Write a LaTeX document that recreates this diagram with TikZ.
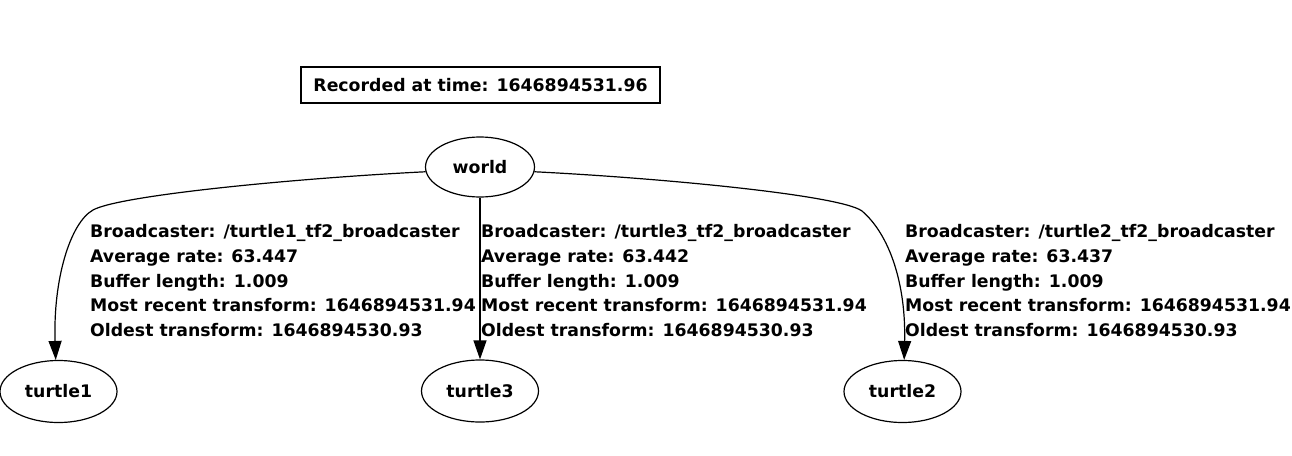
\documentclass[tikz,border=0pt]{standalone}
\usepackage{fontspec}
\setmainfont{DejaVu Sans}
\usetikzlibrary{shapes.geometric,arrows.meta}

\begin{document}
\begin{tikzpicture}[x=1pt, y=-1pt,
        every node/.style={font=\bfseries\fontsize{17.3}{24.7}\selectfont},
        frame/.style={ellipse, draw, line width=1.2pt, minimum width=117pt, minimum height=62pt, inner sep=0pt},
        stamp/.style={rectangle, draw, line width=1.2pt, minimum width=359pt, minimum height=36pt, inner sep=0pt},
        info/.style={anchor=north west, align=left, inner sep=0pt},
        edge/.style={line width=1.2pt, -{Triangle[length=19pt, width=13pt]}}]
        \useasboundingbox (0,0) rectangle (1292,455);

        % Zeitstempel
        \node[stamp] (stamp) at (480.5,85) {Recorded at time: 1646894531.96};

        % Frames
        \node[frame, minimum width=109pt, minimum height=60pt] (world) at (480,167) {world};
        \node[frame] (turtle1) at (58.5,391.5) {turtle1};
        \node[frame] (turtle3) at (480,391) {turtle3};
        \node[frame] (turtle2) at (902.5,391.5) {turtle2};

        % Kanten
        \draw[edge] (world.185) .. controls (300,178) and (120,195) .. (93,210)
            .. controls (70,223) and (53,280) .. (turtle1.95);
        \draw[edge] (world) -- (turtle3);
        \draw[edge] (world.-5) .. controls (660,178) and (840,195) .. (862,211)
            .. controls (890,235) and (906,285) .. (turtle2.87);

        % Beschriftungen
        \node[info] (info1) at (90,224.4) {Broadcaster: /turtle1\_tf2\_broadcaster\\Average rate: 63.447\\Buffer length: 1.009\\Most recent transform: 1646894531.94\\Oldest transform: 1646894530.93};
        \node[info] (info3) at (481,224.4) {Broadcaster: /turtle3\_tf2\_broadcaster\\Average rate: 63.442\\Buffer length: 1.009\\Most recent transform: 1646894531.94\\Oldest transform: 1646894530.93};
        \node[info] (info2) at (905,224.4) {Broadcaster: /turtle2\_tf2\_broadcaster\\Average rate: 63.437\\Buffer length: 1.009\\Most recent transform: 1646894531.94\\Oldest transform: 1646894530.93};
    \end{tikzpicture}
\end{document}
